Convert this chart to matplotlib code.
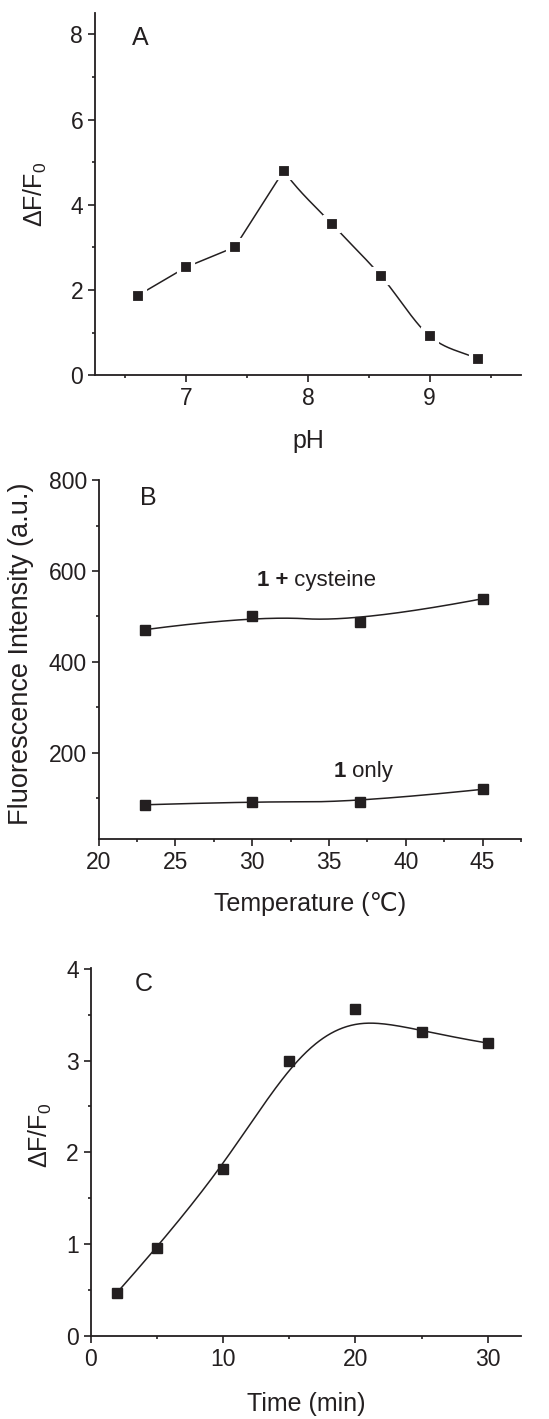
import matplotlib
matplotlib.use('Agg')
import matplotlib.pyplot as plt
import numpy as np

plt.rcParams['font.family'] = ['Liberation Sans', 'DejaVu Sans']
plt.rcParams['mathtext.fontset'] = 'custom'
plt.rcParams['mathtext.rm'] = 'Liberation Sans'
plt.rcParams['mathtext.bf'] = 'Liberation Sans:bold'
plt.rcParams['xtick.direction'] = 'out'
plt.rcParams['ytick.direction'] = 'out'
plt.rcParams['xtick.major.size'] = 5
plt.rcParams['ytick.major.size'] = 5
plt.rcParams['xtick.minor.size'] = 2.5
plt.rcParams['ytick.minor.size'] = 2.5

ink = '#231f20'

# panel A: pH
ph = [6.6, 7.0, 7.4, 7.8, 8.2, 8.6, 9.0, 9.4]
ph_resp = [1.87, 2.54, 3.01, 4.80, 3.54, 2.33, 0.92, 0.38]

# panel B: temperature
temp = [23, 30, 37, 45]
cys_int = [471, 502, 488, 539]
only_int = [86, 93, 92, 120]

# panel C: time
time_min = [2, 5, 10, 15, 20, 25, 30]
time_resp = [0.47, 0.96, 1.82, 2.99, 3.56, 3.31, 3.19]


def spline_a(x, y, n=40):
    # hermite segments: straight up to the peak, averaged tangents after it
    x = np.asarray(x, float)
    y = np.asarray(y, float)
    s = np.diff(y) / np.diff(x)
    k = int(np.argmax(y))
    xs, ys = [], []
    for i in range(len(x) - 1):
        if i < k:
            m0 = m1 = s[i]
        else:
            m0 = s[i] * 1.25 if i == k else (s[i - 1] + s[i]) / 2
            m1 = s[i] if i == len(s) - 1 else (s[i] + s[i + 1]) / 2
        h = x[i + 1] - x[i]
        t = np.linspace(0, 1, n)
        h00 = 2 * t**3 - 3 * t**2 + 1
        h10 = t**3 - 2 * t**2 + t
        h01 = -2 * t**3 + 3 * t**2
        h11 = t**3 - t**2
        xs.append(x[i] + h * t)
        ys.append(h00 * y[i] + h10 * h * m0 + h01 * y[i + 1] + h11 * h * m1)
    return np.concatenate(xs), np.concatenate(ys)


def bspline(x, y, k=2, n=300):
    # open uniform B-spline, data points used as control points
    P = np.column_stack([x, y]).astype(float)
    m = len(P)
    k = min(k, m - 1)
    knots = np.concatenate([np.zeros(k), np.linspace(0, 1, m - k + 1), np.ones(k)])
    u = np.linspace(0, 1 - 1e-9, n)

    def basis(i, d, u):
        if d == 0:
            return ((knots[i] <= u) & (u < knots[i + 1])).astype(float)
        a = 0.0
        b = 0.0
        if knots[i + d] != knots[i]:
            a = (u - knots[i]) / (knots[i + d] - knots[i]) * basis(i, d - 1, u)
        if knots[i + d + 1] != knots[i + 1]:
            b = (knots[i + d + 1] - u) / (knots[i + d + 1] - knots[i + 1]) * basis(i + 1, d - 1, u)
        return a + b

    N = np.array([basis(i, k, u) for i in range(m)])
    c = N.T @ P
    c = np.vstack([c, P[-1]])
    return c[:, 0], c[:, 1]


def style(ax):
    for s in ['top', 'right']:
        ax.spines[s].set_visible(False)
    for s in ['left', 'bottom']:
        ax.spines[s].set_color(ink)
        ax.spines[s].set_linewidth(1.3)
    ax.tick_params(which='both', colors=ink, labelcolor=ink, width=1.2)
    ax.tick_params(which='major', labelsize=16.5)
    ax.xaxis.label.set_va('center')
    ax.yaxis.label.set_va('center')


fs_lab = 18
fs_let = 18

fig = plt.figure(figsize=(5.49, 14.19), dpi=100)

# A
ax1 = fig.add_axes([0.173, 0.7355, 0.776, 0.2553])
cx, cy = spline_a(ph, ph_resp)
ax1.plot(cx, cy, color=ink, lw=1.1)
ax1.plot(ph, ph_resp, 's', color=ink, ms=10, mec='white', mew=3)
ax1.set_xlim(6.25, 9.75)
ax1.set_ylim(0, 8.5)
ax1.set_xticks([7, 8, 9])
ax1.set_xticks([6.5, 7.5, 8.5, 9.5], minor=True)
ax1.set_yticks([0, 2, 4, 6, 8])
ax1.set_yticks([1, 3, 5, 7], minor=True)
ax1.set_xlabel('pH', fontsize=fs_lab, color=ink)
ax1.set_ylabel(r'ΔF/F$_0$', fontsize=fs_lab, color=ink)
ax1.text(6.55, 7.75, 'A', fontsize=fs_let, color=ink, va='baseline')
style(ax1)
ax1.xaxis.set_label_coords(0.5, -0.181)
ax1.yaxis.set_label_coords(-0.141, 0.5)

# B
ax2 = fig.add_axes([0.1798, 0.4085, 0.769, 0.2532])
bx, by = bspline(temp, cys_int)
ax2.plot(bx, by, color=ink, lw=1.1)
ax2.plot(temp, cys_int, 's', color=ink, ms=7.2)
bx, by = bspline(temp, only_int)
ax2.plot(bx, by, color=ink, lw=1.1)
ax2.plot(temp, only_int, 's', color=ink, ms=7.2)
ax2.set_xlim(20, 47.5)
ax2.set_ylim(10, 800)
ax2.set_xticks([20, 25, 30, 35, 40, 45])
ax2.set_xticks([22.5, 27.5, 32.5, 37.5, 42.5, 47.5], minor=True)
ax2.set_yticks([200, 400, 600, 800])
ax2.set_yticks([100, 300, 500, 700], minor=True)
ax2.set_xlabel('Temperature (℃)', fontsize=fs_lab, color=ink)
ax2.set_ylabel('Fluorescence Intensity (a.u.)', fontsize=19.5, color=ink)
ax2.text(22.7, 745, 'B', fontsize=fs_let, color=ink, va='baseline')
t1 = ax2.text(30.3, 568, '1 +', fontsize=16, color=ink, weight='bold', va='baseline')
ax2.annotate(' cysteine', xy=(1, 0), xycoords=t1, fontsize=16, color=ink, va='bottom')
t2 = ax2.text(35.3, 147, '1', fontsize=16, color=ink, weight='bold', va='baseline')
ax2.annotate(' only', xy=(1, 0), xycoords=t2, fontsize=16, color=ink, va='bottom')
style(ax2)
ax2.xaxis.set_label_coords(0.5, -0.18)
ax2.yaxis.set_label_coords(-0.184, 0.516)

# C
ax3 = fig.add_axes([0.165, 0.0587, 0.784, 0.2592])
tx, ty = bspline(time_min, time_resp, k=3)
ax3.plot(tx, ty, color=ink, lw=1.1)
ax3.plot(time_min, time_resp, 's', color=ink, ms=7.2)
ax3.set_xlim(0, 32.5)
ax3.set_ylim(0, 4.01)
ax3.set_xticks([0, 10, 20, 30])
ax3.set_xticks([5, 15, 25], minor=True)
ax3.set_yticks([0, 1, 2, 3, 4])
ax3.set_yticks([0.5, 1.5, 2.5, 3.5], minor=True)
ax3.set_xlabel('Time (min)', fontsize=fs_lab, color=ink)
ax3.set_ylabel(r'ΔF/F$_0$', fontsize=fs_lab, color=ink)
ax3.text(3.34, 3.76, 'C', fontsize=fs_let, color=ink, va='baseline')
style(ax3)
ax3.xaxis.set_label_coords(0.5, -0.185)
ax3.yaxis.set_label_coords(-0.116, 0.544)

fig.savefig('out.png', dpi=100)
